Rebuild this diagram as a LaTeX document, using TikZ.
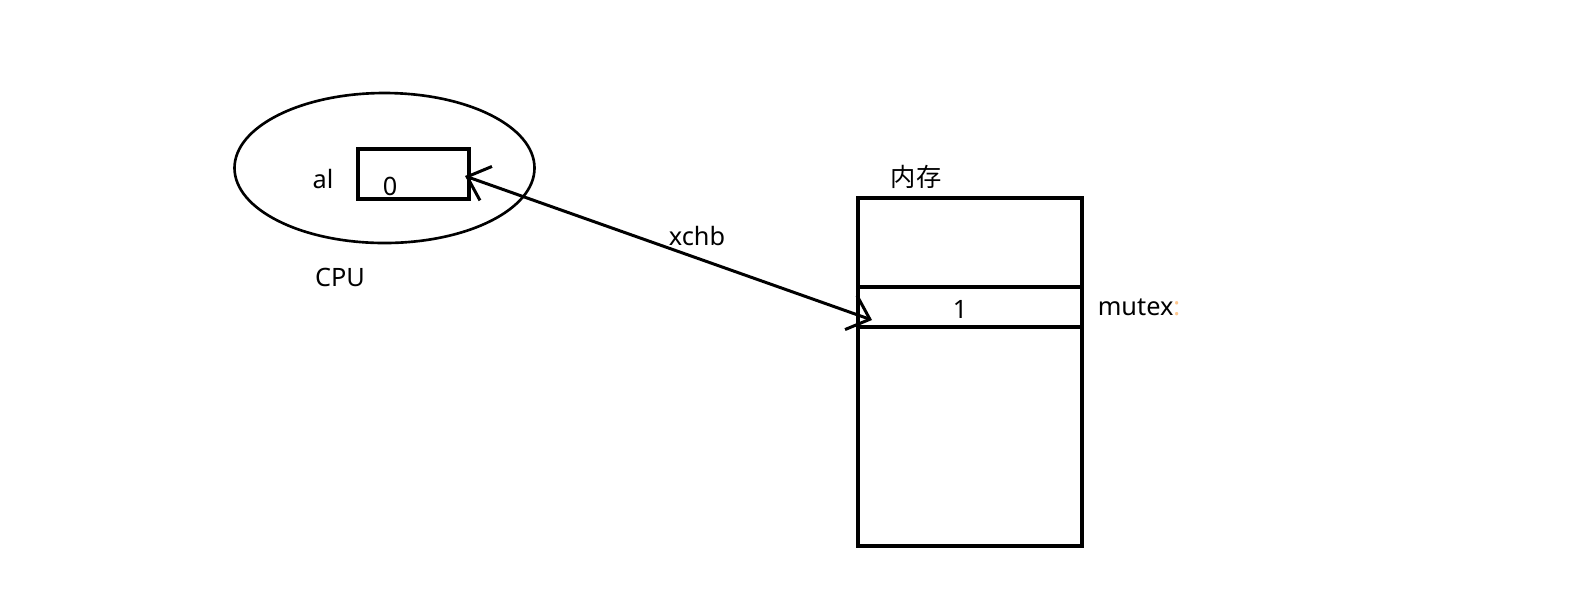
\documentclass[tikz,border=0pt]{standalone}
\usepackage{fontspec}
\setmainfont{Noto Sans}
\newfontfamily\cjk{Noto Sans CJK SC}
\usetikzlibrary{arrows.meta, positioning, shapes.geometric}

\begin{document}
\begin{tikzpicture}[
  cpushape/.style={draw, ellipse, line width=0.75pt, minimum width=3.0cm,
               minimum height=1.5cm, inner sep=0pt},
  regbox/.style={draw, line width=0.95pt, minimum width=1.11cm, minimum height=0.5cm, inner sep=0pt},
  membox/.style={draw, line width=0.95pt, minimum width=2.24cm, minimum height=3.48cm, inner sep=0pt},
  slotbox/.style={draw, line width=0.95pt, minimum width=2.24cm, minimum height=0.40cm, inner sep=0pt},
  lbl/.style={font=\fontsize{7.2}{8}\selectfont, inner sep=0pt},
  >={Straight Barb[length=0.2cm, width=0.36cm]}
]
  \useasboundingbox (0,0) rectangle (15.74,6.02);

  % CPU side
  \node[cpushape] (cpu) at (3.845,4.34) {};
  \node[regbox] (reg) at (4.135,4.28) {};
  \node[lbl] (al) at (3.23,4.23) {al};
  \node[lbl] (zero) at (3.90,4.16) {0};
  \node[lbl] (cpulbl) at (3.40,3.25) {CPU};

  % Memory side
  \node[membox] (mem) at (9.70,2.30) {};
  \node[slotbox] (slot) at (9.70,2.95) {};
  \node[lbl] (memlbl) at (9.16,4.25) {\cjk 内存};
  \node[lbl] (one) at (9.60,2.93) {1};
  \node[lbl] (mutex) at (11.39,2.95) {mutex\textcolor{orange!45}{:}};

  % Exchange
  \coordinate (regtip) at (4.65,4.26);
  \coordinate (slottip) at (8.72,2.82);
  \draw[<->, line width=0.85pt] (regtip) -- (slottip);
  \node[lbl] (xchb) at (6.97,3.66) {xchb};
\end{tikzpicture}
\end{document}
